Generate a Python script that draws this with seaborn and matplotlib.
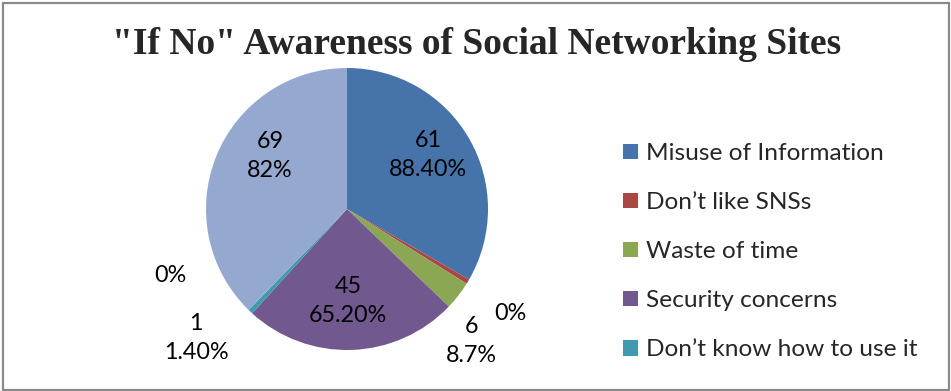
import matplotlib
matplotlib.use("Agg")
import matplotlib.pyplot as plt
from matplotlib.patches import Rectangle, Patch
import seaborn as sns

# Survey responses, clockwise from 12 o'clock
categories = ["Misuse of Information", "Don\u2019t like SNSs", "Waste of time",
              "Security concerns", "Don\u2019t know how to use it", ""]
counts = [61, 1, 6, 45, 1, 69]
label_texts = ["61\n88.40%", "0%", "6\n8.7%", "45\n65.20%", "1\n1.40%", "69\n82%"]
extra_label = "0%"

colors = ["#4674AA", "#AA4644", "#8BA753", "#71598F", "#4199B0", "#95A9D0"]

sns.set_theme(style="white")
plt.rcParams["font.family"] = ["Lato", "DejaVu Sans"]

W, H = 951, 391
fig = plt.figure(figsize=(W / 100, H / 100), dpi=100)
fig.patch.set_facecolor("white")

# outer chart frame
fig.patches.append(Rectangle((3 / W, 1 / H), 946 / W, 387 / H, transform=fig.transFigure,
                             fill=False, edgecolor="#8a8a8a", linewidth=1.6))

# pie area: centre (347, 209) px, radius 141 px
cx, cy, r = 347, 209, 141
ax = fig.add_axes([(cx - r) / W, (H - cy - r) / H, 2 * r / W, 2 * r / H])
wedges, _ = ax.pie(counts, colors=colors, startangle=90, counterclock=False,
                   wedgeprops=dict(linewidth=0))
ax.set_xlim(-1, 1)
ax.set_ylim(-1, 1)
ax.set_aspect("equal")
ax.axis("off")

def px(x, y):
    return (x - cx) / r, (cy - y) / r

FS = 16.8
# data label positions (pixel centres)
label_pos = [(428, 155), (510, 313), (471, 341), (348, 301), (196, 338), (270, 156)]
for txt, (x, y) in zip(label_texts, label_pos):
    ax.text(*px(x, y), txt, ha="center", va="center", fontsize=FS,
            linespacing=1.45, color="black", clip_on=False)
ax.text(*px(170, 275), extra_label, ha="center", va="center", fontsize=FS,
        color="black", clip_on=False)

fig.text(477 / W, 1 - 44 / H, "\"If No\" Awareness of Social Networking Sites",
         ha="center", va="center", fontsize=27, fontweight="bold",
         family=["Liberation Serif", "DejaVu Serif"])

handles = [Patch(facecolor=c, edgecolor="none") for c in colors[:5]]
leg = fig.legend(handles, categories[:5], loc="upper left",
                 bbox_to_anchor=(623 / W, 1 - 143 / H), frameon=False,
                 fontsize=17.6, handlelength=0.6, handleheight=0.6,
                 handletextpad=0.33, labelspacing=1.15, borderaxespad=0,
                 borderpad=0)

fig.savefig("out.png", dpi=100, facecolor="white")
